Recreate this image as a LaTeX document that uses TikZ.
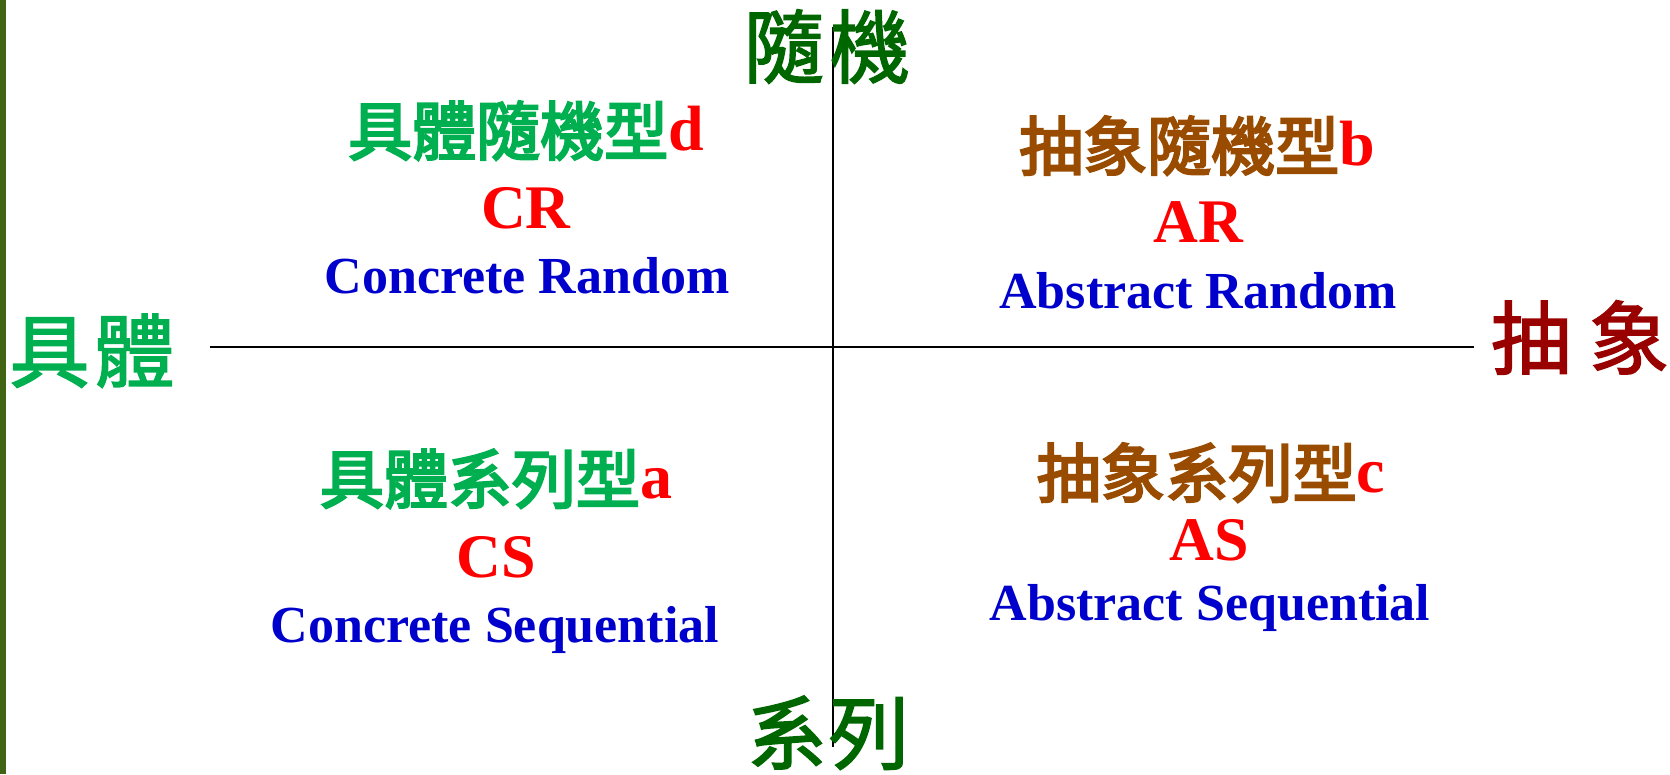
\documentclass[tikz,border=0pt]{standalone}
\usepackage{fontspec}
\setmainfont{Liberation Serif}
\newfontfamily\cjkfont[FakeBold=2]{Noto Sans CJK TC}
\newfontfamily\cjkmed[FakeBold=3.5]{Noto Sans CJK TC}
\definecolor{barg}{RGB}{64,100,20}
\definecolor{dgreen}{RGB}{0,102,0}
\definecolor{lgreen}{RGB}{0,176,80}
\definecolor{dred}{RGB}{153,0,0}
\definecolor{qbrown}{RGB}{153,76,0}
\definecolor{qblue}{RGB}{0,0,204}
\definecolor{qred}{RGB}{255,0,0}
\newcommand\cjlow[1]{\raisebox{-5pt}{\mdseries\cjkmed #1}}
\begin{document}
\begin{tikzpicture}[x=1pt,y=-1pt,
  txt/.style={inner sep=0pt,outer sep=0pt,anchor=base},
  axislab/.style={txt,font=\fontsize{80}{90}\selectfont\cjkfont},
  title/.style={txt,font=\fontsize{64}{70}\selectfont\bfseries},
  code/.style={txt,font=\fontsize{62}{70}\selectfont\bfseries,text=qred},
  eng/.style={txt,font=\fontsize{52}{60}\selectfont\bfseries,text=qblue},
  axisline/.style={line width=1.6pt,black}]
\useasboundingbox (0,0) rectangle (1670,774);
\fill[barg] (0,0) rectangle (6,774);
% axes
\coordinate (vt) at (833,27);
\coordinate (vb) at (833,747);
\coordinate (hl) at (210,347);
\coordinate (hr) at (1474,347);
\draw[axisline] (vt) -- (vb);
\draw[axisline] (hl) -- (hr);
% axis labels
\node[axislab,text=dgreen] (top) at (827,77) {隨\hspace{6pt}機};
\node[axislab,text=dgreen] (bottom) at (828,763) {系\hspace{2pt}列};
\node[axislab,text=lgreen] (left) at (92,381) {具\hspace{5pt}體};
\node[axislab,text=dred] (right) at (1580,368) {抽\hspace{18pt}象};
% top-left
\node[title] (tlt) at (526,150) {\textcolor{lgreen}{\cjlow{具體隨機型}}\textcolor{qred}{d}};
\node[code] (tlc) at (526,228) {CR};
\node[eng] (tle) at (527,293) {Concrete Random};
% top-right
\node[title] (trt) at (1197,165) {\textcolor{qbrown}{\cjlow{抽象隨機型}}\textcolor{qred}{b}};
\node[code] (trc) at (1198,242) {AR};
\node[eng] (tre) at (1198,308) {Abstract Random};
% bottom-left
\node[title] (blt) at (496,498) {\textcolor{lgreen}{\cjlow{具體系列型}}\textcolor{qred}{a}};
\node[code] (blc) at (496,577) {CS};
\node[eng] (ble) at (495,642) {Concrete Sequential};
% bottom-right
\node[title] (brt) at (1211,492) {\textcolor{qbrown}{\cjlow{抽象系列型}}\textcolor{qred}{c}};
\node[code] (brc) at (1209,560) {AS};
\node[eng] (bre) at (1210,620) {Abstract Sequential};
\end{tikzpicture}
\end{document}
